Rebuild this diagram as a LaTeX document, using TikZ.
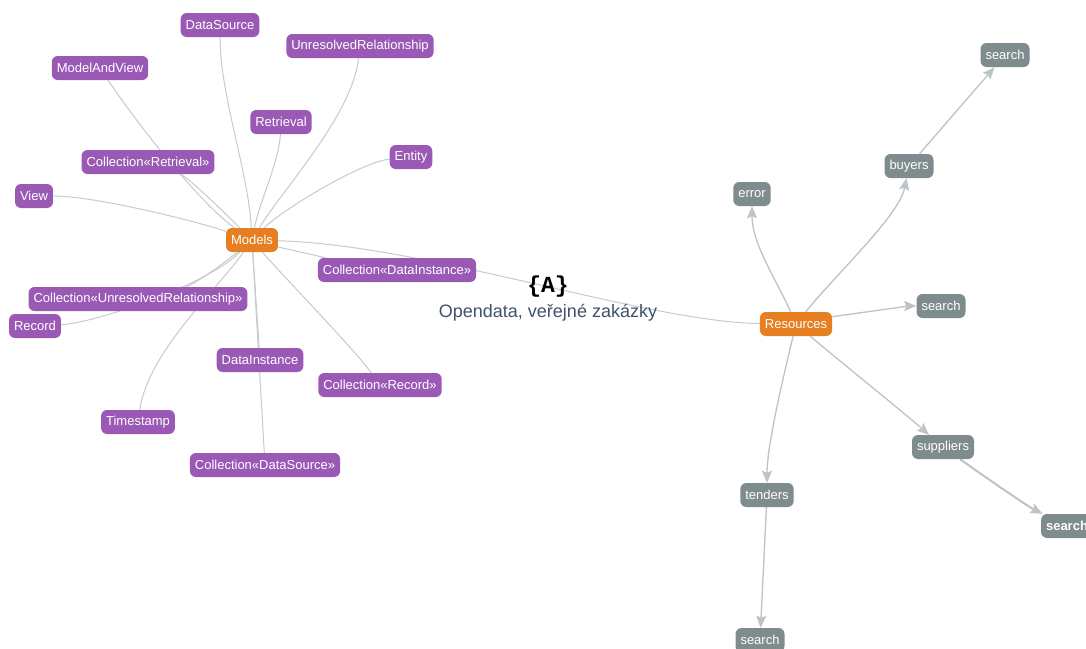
\documentclass[tikz,border=0pt]{standalone}
\usepackage{fontspec}
\setmainfont{Liberation Sans}
\newfontfamily\codefont{Liberation Mono}
\usetikzlibrary{arrows.meta,backgrounds}

\definecolor{modelfill}{HTML}{9B59B6}
\definecolor{hubfill}{HTML}{E67E22}
\definecolor{resfill}{HTML}{7F8C8D}
\definecolor{linkgray}{HTML}{C4CBD1}
\definecolor{flowgray}{HTML}{BDC3C7}
\definecolor{titleblue}{HTML}{3F5266}

\begin{document}
\begin{tikzpicture}[x=1pt,y=-1pt,
  box/.style={rounded corners=6pt, text=white,
    font=\fontsize{13}{13}\selectfont,
    inner xsep=5pt, inner ysep=0pt, minimum height=24pt},
  model/.style={box, fill=modelfill},
  hub/.style={box, fill=hubfill},
  res/.style={box, fill=resfill},
  link/.style={draw=linkgray, line width=1pt},
  flow/.style={draw=flowgray, line width=1.3pt,
    -{Stealth[length=12pt,width=10pt,inset=2pt]}},
]
\useasboundingbox (0,0) rectangle (1086,648);
\clip (0,0) rectangle (1086,648);

% model entities around the Models hub
\node[model] (datasource) at (220,25) {DataSource};
\node[model] (unresolved) at (360,46) {UnresolvedRelationship};
\node[model] (mav) at (100,68) {ModelAndView};
\node[model] (retrieval) at (281,122) {Retrieval};
\node[model] (entity) at (411,157) {Entity};
\node[model] (colret) at (148,162) {Collection«Retrieval»};
\node[model] (view) at (34,196) {View};
\node[hub] (models) at (252,240) {Models};
\node[model] (coldi) at (397,270) {Collection«DataInstance»};
\node[model] (colur) at (138,299) {Collection«UnresolvedRelationship»};
\node[model] (record) at (35,326) {Record};
\node[model] (datainst) at (260,360) {DataInstance};
\node[model] (colrec) at (380,385) {Collection«Record»};
\node[model] (timestamp) at (138,422) {Timestamp};
\node[model] (colds) at (265,465) {Collection«DataSource»};

% API title
\node[font=\codefont\bfseries\fontsize{23}{23}\selectfont] (apiicon) at (548,287) {\{A\}};
\node[font=\fontsize{18}{18}\selectfont, text=titleblue] (apititle) at (548,313) {Opendata, veřejné zakázky};

% resources and their endpoints
\node[hub] (resources) at (796,324) {Resources};
\node[res] (error) at (752,194) {error};
\node[res] (buyers) at (909,166) {buyers};
\node[res] (buyersearch) at (1005,55) {search};
\node[res] (search) at (941,306) {search};
\node[res] (suppliers) at (943,447) {suppliers};
\node[res, font=\bfseries\fontsize{13}{13}\selectfont] (suppliersearch) at (1067,526) {search};
\node[res] (tenders) at (767,495) {tenders};
\node[res] (tendersearch) at (760,640) {search};

\begin{scope}[on background layer]
  \fill[white] (0,0) rectangle (1086,648);

  % Models connectors
  \draw[link] (models) .. controls +(-4,-70) and +(0,70) .. (datasource);
  \draw[link] (models) .. controls +(30,-50) and +(-8,70) .. (unresolved);
  \draw[link] (models) .. controls +(8,-40) and +(-2,40) .. (retrieval);
  \draw[link] (models) .. controls +(30,-30) and +(-50,5) .. (entity);
  \draw[link] (models) .. controls +(-50,-35) and +(40,60) .. (mav);
  \draw[link] (models) .. controls +(-20,-20) and +(40,15) .. (colret);
  \draw[link] (models) .. controls +(-60,-20) and +(60,0) .. (view);
  \draw[link] (models) .. controls +(30,8) and +(-50,-8) .. (coldi);
  \draw[link] (models) .. controls +(175,5) and +(-150,-2) .. (resources);
  \draw[link] (models) .. controls +(-30,25) and +(55,-14) .. (colur);
  \draw[link] (models) .. controls +(-45,45) and +(60,-3) .. (record);
  \draw[link] (models) .. controls +(-35,50) and +(10,-70) .. (timestamp);
  \draw[link] (models) -- (datainst);
  \draw[link] (models) -- (colds);
  \draw[link] (models) .. controls +(30,35) and +(-25,-35) .. (colrec);

  % Resources connectors
  \draw[flow] (resources) .. controls +(-20,-45) and +(0,50) .. (error);
  \draw[flow] (resources) .. controls +(40,-50) and +(-10,50) .. (buyers);
  \draw[flow] (buyers) -- (buyersearch);
  \draw[flow] (resources) .. controls +(40,-8) and +(-30,0) .. (search);
  \draw[flow] (resources) .. controls +(35,30) and +(-40,-35) .. (suppliers);
  \draw[flow, line width=2pt] (suppliers) .. controls +(35,25) and +(-40,-20) .. (suppliersearch);
  \draw[flow] (resources) .. controls +(-12,50) and +(0,-50) .. (tenders);
  \draw[flow] (tenders) -- (tendersearch);
\end{scope}
\end{tikzpicture}
\end{document}
